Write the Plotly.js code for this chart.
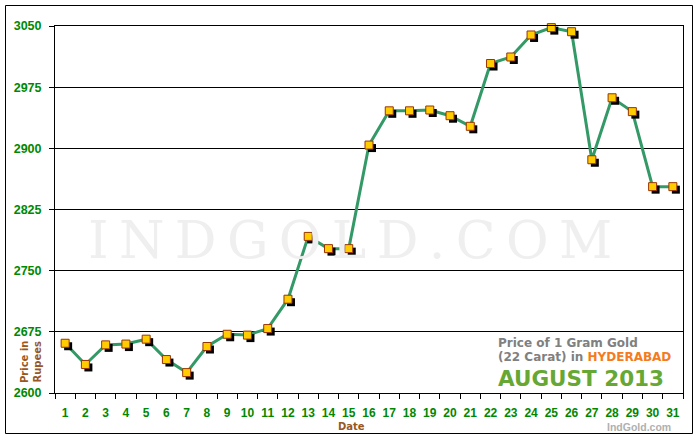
<!DOCTYPE html>
<html>
<head>
<meta charset="utf-8">
<script src="https://cdn.plot.ly/plotly-3.0.1.min.js"></script>
<style>
html,body{margin:0;padding:0;background:#fff;}
#chart{width:700px;height:440px;}
</style>
</head>
<body>
<div id="chart"></div>
<script>
// ---- data ----
const days = [1,2,3,4,5,6,7,8,9,10,11,12,13,14,15,16,17,18,19,20,21,22,23,24,25,26,27,28,29,30,31];
const prices = [2661,2635,2659,2660,2666,2641,2625,2657,2672,2671,2679,2715,2792,2777,2777,2904,2946,2946,2947,2940,2927,3004,3012,3039,3048,3043,2886,2962,2945,2853,2853];
const yTicks = [2600,2675,2750,2825,2900,2975,3050];
const dayLabels = days.map(String);

// ---- layout geometry ----
const L = 55, R = 17, T = 26, B = 47, W = 700, H = 440;
const pw = W - L - R, ph = H - T - B;
const xr = [0.5, 31.5], yr = [2600, 3050];
const shadowPx = 3;
const dxu = shadowPx * (xr[1] - xr[0]) / pw;
const dyu = shadowPx * (yr[1] - yr[0]) / ph;
const px = x => (x - L) / pw;
const py = y => (H - B - y) / ph;

const green = '#008800';
const brown = '#99581F';

const traces = [
  {x: days, y: prices, type: 'scatter', mode: 'lines', xaxis: 'x', yaxis: 'y',
   line: {color: '#339966', width: 3}, hoverinfo: 'skip', cliponaxis: false},
  {x: days, y: prices, type: 'scatter', mode: 'markers', xaxis: 'x2', yaxis: 'y2',
   marker: {symbol: 'square', size: 8, color: '#000000', line: {width: 0}}, cliponaxis: false, hoverinfo: 'skip'},
  {x: days, y: prices, type: 'scatter', mode: 'markers', xaxis: 'x3', yaxis: 'y3',
   marker: {symbol: 'square', size: 8, color: '#FFCC00', line: {color: '#993300', width: 1}}, cliponaxis: false}
];

const tickFont = {family: 'Liberation Sans, Arial, sans-serif', size: 12, color: green, weight: 'bold'};
const legFont = {family: 'DejaVu Sans, Verdana, sans-serif', size: 12, color: '#808080', weight: 'bold'};

const layout = {
  width: W, height: H,
  margin: {l: L, r: R, t: T, b: B, pad: 0},
  paper_bgcolor: '#ffffff', plot_bgcolor: '#ffffff',
  showlegend: false,
  xaxis: {
    range: xr, showgrid: false, zeroline: false, showline: true, linecolor: '#000', linewidth: 1, mirror: true,
    tickmode: 'array', tickvals: days, ticktext: dayLabels, ticks: '', ticklabelstandoff: 9,
    tickfont: tickFont,
    minor: {tickmode: 'array', tickvals: days.map(d => d - 0.5).concat([days[days.length - 1] + 0.5]),
            ticks: 'outside', ticklen: 5, tickcolor: '#000', tickwidth: 1, showgrid: false}
  },
  yaxis: {
    range: yr, showgrid: true, gridcolor: '#000', gridwidth: 1, zeroline: false,
    showline: true, linecolor: '#000', linewidth: 1, mirror: true,
    tickmode: 'array', tickvals: yTicks, ticktext: yTicks.map(String),
    ticks: 'outside', ticklen: 5, tickcolor: '#000', ticklabelstandoff: 5,
    tickfont: {family: 'Liberation Sans, Arial, sans-serif', size: 12.5, color: green, weight: 'bold'}
  },
  xaxis2: {overlaying: 'x', range: [xr[0] - dxu, xr[1] - dxu], visible: false},
  yaxis2: {overlaying: 'y', range: [yr[0] + dyu, yr[1] + dyu], visible: false},
  xaxis3: {overlaying: 'x', range: xr, visible: false},
  yaxis3: {overlaying: 'y', range: yr, visible: false},
  shapes: [
    {type: 'rect', xref: 'paper', yref: 'paper', x0: px(5.5), x1: px(692.5), y0: py(433.5), y1: py(5.5),
     line: {color: '#000', width: 1}, fillcolor: 'rgba(0,0,0,0)', layer: 'below'}
  ],
  annotations: [
    {text: 'I\u2009N\u2009D\u2009G\u2009O\u2009L\u2009D\u2009.\u2009C\u2009O\u2009M', xref: 'paper', yref: 'paper',
     x: px(350), y: py(240), xanchor: 'center', yanchor: 'middle', showarrow: false,
     font: {family: 'DejaVu Serif, Liberation Serif, serif', size: 52, color: '#efefef'}},
    {text: 'Price of 1 Gram Gold', xref: 'paper', yref: 'paper', x: px(496), y: py(342.5),
     xanchor: 'left', yanchor: 'middle', showarrow: false, font: legFont},
    {text: '(22 Carat) in <span style="color:#F47B20">HYDERABAD</span>', xref: 'paper', yref: 'paper',
     x: px(496), y: py(357), xanchor: 'left', yanchor: 'middle', showarrow: false, font: legFont},
    {text: 'AUGUST 2013', xref: 'paper', yref: 'paper', x: px(496), y: py(378), xanchor: 'left', yanchor: 'middle',
     showarrow: false, font: {family: 'DejaVu Sans, Verdana, sans-serif', size: 21.5, color: '#66A833', weight: 'bold'}},
    {text: 'Price in<br>Rupees', xref: 'paper', yref: 'paper', x: px(31), y: py(362), xanchor: 'center', yanchor: 'middle',
     textangle: -90, showarrow: false,
     font: {family: 'DejaVu Sans, Verdana, sans-serif', size: 10, color: brown, weight: 'bold'}},
    {text: 'Date', xref: 'paper', yref: 'paper', x: px(351), y: py(426), xanchor: 'center', yanchor: 'middle',
     showarrow: false, font: {family: 'DejaVu Sans, Verdana, sans-serif', size: 10, color: brown, weight: 'bold'}},
    {text: 'IndGold.com', xref: 'paper', yref: 'paper', x: px(639), y: py(426.5), xanchor: 'center', yanchor: 'middle',
     showarrow: false, font: {family: 'Liberation Sans, Arial, sans-serif', size: 10.5, color: '#b0b0b0', weight: 'bold'}}
  ]
};

Plotly.newPlot('chart', traces, layout, {displayModeBar: false, staticPlot: true});
</script>
</body>
</html>
